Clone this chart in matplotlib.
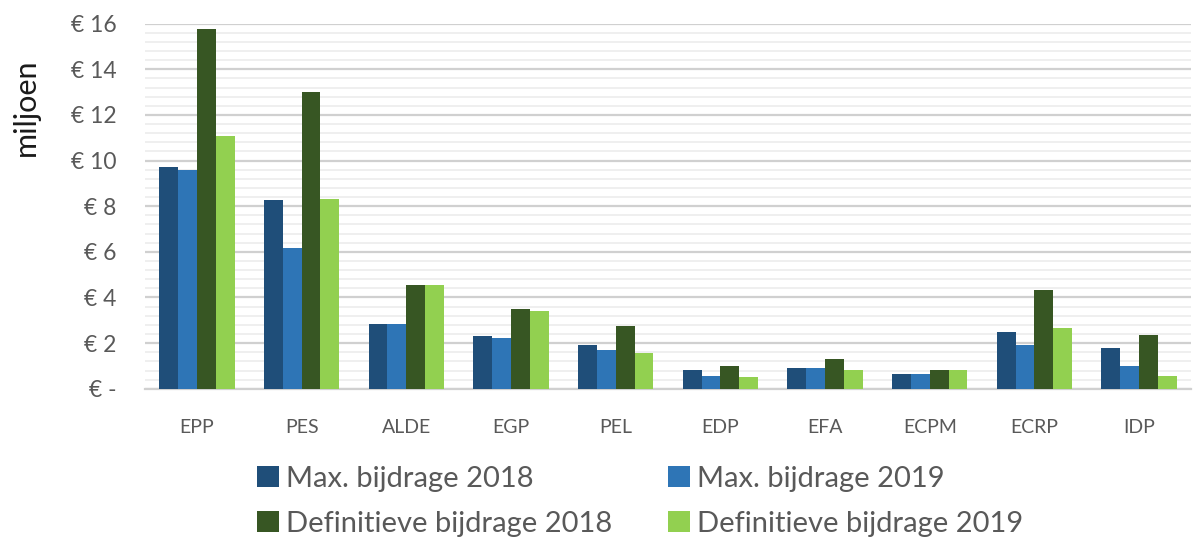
import matplotlib
matplotlib.use("Agg")
import matplotlib.pyplot as plt
import numpy as np
from matplotlib.ticker import MultipleLocator, FuncFormatter

plt.rcParams['font.family'] = ['Lato', 'DejaVu Sans']

categories = ["EPP", "PES", "ALDE", "EGP", "PEL", "EDP", "EFA", "ECPM", "ECRP", "IDP"]
max_2018 = [9.70, 8.29, 2.86, 2.30, 1.93, 0.83, 0.91, 0.64, 2.49, 1.80]
max_2019 = [9.57, 6.18, 2.86, 2.22, 1.68, 0.58, 0.91, 0.64, 1.93, 0.98]
def_2018 = [15.75, 13.01, 4.53, 3.50, 2.75, 1.01, 1.29, 0.83, 4.33, 2.37]
def_2019 = [11.09, 8.33, 4.53, 3.40, 1.55, 0.51, 0.83, 0.83, 2.68, 0.58]
series_labels = ["Max. bijdrage 2018", "Max. bijdrage 2019",
                 "Definitieve bijdrage 2018", "Definitieve bijdrage 2019"]
colors = ["#1f4e79", "#2e75b6", "#375623", "#92d050"]

fig = plt.figure(figsize=(11.95, 5.37), dpi=100)
ax = fig.add_axes([0.121, 0.276, 0.876, 0.680])

x = np.arange(len(categories))
w = 0.18
series = [max_2018, max_2019, def_2018, def_2019]
handles = []
for i, (vals, lab, c) in enumerate(zip(series, series_labels, colors)):
    h = ax.bar(x + (i - 1.5) * w, vals, width=w, color=c, label=lab, zorder=3)
    handles.append(h)

ax.set_xlim(-0.5, len(categories) - 0.5)
ax.set_ylim(0, 16)
ax.yaxis.set_major_locator(MultipleLocator(2))
ax.yaxis.set_minor_locator(MultipleLocator(0.4))
ax.yaxis.set_major_formatter(FuncFormatter(lambda v, p: "€ -" if v == 0 else f"€ {int(v)}"))
ax.grid(axis='y', which='major', color='#d0d0d0', linewidth=1.6, zorder=0)
ax.grid(axis='y', which='minor', color='#ececec', linewidth=1.2, zorder=0)
for s in ['top', 'right', 'left']:
    ax.spines[s].set_visible(False)
ax.spines['bottom'].set_color('#d0d0d0')
ax.spines['bottom'].set_linewidth(1.6)
ax.tick_params(axis='both', which='both', length=0)
ax.tick_params(axis='y', labelsize=16.5, labelcolor='#595959', pad=20)
ax.tick_params(axis='x', labelsize=14, labelcolor='#595959', pad=22)
ax.set_xticks(x)
ax.set_xticklabels(categories)
ax.set_ylabel("miljoen", fontsize=22, color='#1a1a1a')
ax.yaxis.set_label_coords(-0.1, 0.77)

order = [0, 2, 1, 3]
leg = fig.legend(handles=[handles[i] for i in order],
                 labels=[series_labels[i] for i in order], loc='lower left',
                 bbox_to_anchor=(0.193, -0.048), ncol=2, frameon=False,
                 fontsize=21, handlelength=0.75, handleheight=0.75,
                 handletextpad=0.25, columnspacing=1.9, labelspacing=0.64)
for t in leg.get_texts():
    t.set_color('#595959')

fig.savefig("out.png", dpi=100)
